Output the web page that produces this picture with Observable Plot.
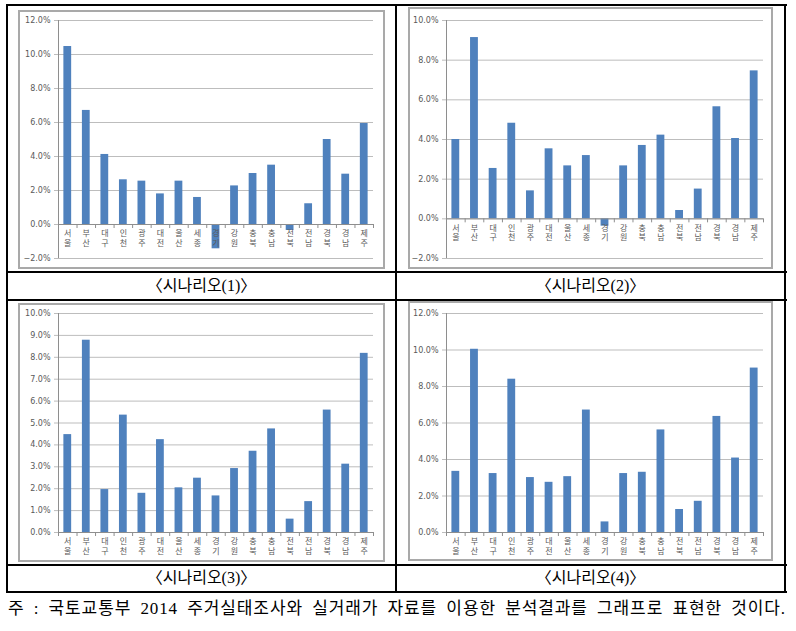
<!DOCTYPE html>
<html><head><meta charset="utf-8">
<script src="https://cdn.jsdelivr.net/npm/d3@7"></script>
<script src="https://cdn.jsdelivr.net/npm/@observablehq/plot@0.6"></script>
<style>
html,body{margin:0;padding:0;background:#fff}
body{width:796px;height:631px;position:relative;overflow:hidden;font-family:"Noto Sans CJK KR",sans-serif}
.ln{position:absolute;background:#000}
.chart{position:absolute;box-sizing:border-box;border:2px solid #a9a9a9;background:#fff}
.chart svg{display:block}
.cap{position:absolute;font-family:"Liberation Serif","Noto Sans CJK KR",serif;font-size:16px;text-align:center;line-height:20px;color:#000}
.note{position:absolute;left:8px;top:598px;font-family:"Liberation Serif","Noto Sans CJK KR",serif;font-size:17px;line-height:21px;white-space:nowrap;color:#000}
</style>
</head><body>
<div id="root"></div>
<script>
const regions = ["서울","부산","대구","인천","광주","대전","울산","세종","경기","강원","충북","충남","전북","전남","경북","경남","제주"];
const scenario1 = [10.47,6.71,4.12,2.63,2.55,1.80,2.55,1.59,-1.43,2.27,3.00,3.49,-0.35,1.22,5.00,2.96,5.94];
const scenario2 = [4.00,9.14,2.54,4.82,1.41,3.53,2.67,3.19,-0.37,2.67,3.70,4.22,0.42,1.50,5.65,4.05,7.46];
const scenario3 = [4.47,8.78,1.96,5.36,1.79,4.24,2.04,2.48,1.67,2.92,3.71,4.73,0.61,1.41,5.59,3.12,8.18];
const scenario4 = [3.35,10.04,3.23,8.40,3.01,2.75,3.06,6.71,0.58,3.23,3.30,5.62,1.26,1.71,6.36,4.08,9.01];
const yTicks1 = [-2,0,2,4,6,8,10,12];
const yTicks2 = [-2,0,2,4,6,8,10];
const yTicks3 = [0,1,2,3,4,5,6,7,8,9,10];
const yTicks4 = [0,2,4,6,8,10,12];
const captions = ["〈시나리오(1)〉","〈시나리오(2)〉","〈시나리오(3)〉","〈시나리오(4)〉"];
const note = "주 : 국토교통부 2014 주거실태조사와 실거래가 자료를 이용한 분석결과를 그래프로 표현한 것이다.";

const B = 2; // frame border
const layouts = [
  {frame:{x:18,y:10,w:367,h:259}, plot:{left:58,right:373,top:20,bottom:258}},
  {frame:{x:408,y:7,w:365,h:262}, plot:{left:446,right:763,top:20,bottom:258}},
  {frame:{x:18,y:303,w:367,h:259}, plot:{left:58,right:373,top:313,bottom:532}},
  {frame:{x:408,y:301,w:365,h:260}, plot:{left:446,right:763,top:313,bottom:532}}
];
const capPos = [{x:7,w:389,y:276},{x:396,w:389,y:276},{x:7,w:389,y:568},{x:396,w:389,y:568}];

function chart(values, ticks, L) {
  const f = L.frame, p = L.plot;
  const W = f.w - 2*B, H = f.h - 2*B;
  const ml = p.left - f.x - B, mr = f.x + f.w - B - p.right;
  const mt = p.top - f.y - B, mb = f.y + f.h - B - p.bottom;
  const ymin = d3.min(ticks), ymax = d3.max(ticks);
  const data = regions.map((r,i)=>({region:r, i, value: values[i]}));
  const bounds = d3.range(regions.length + 1);
  const tickLen = 4*(ymax-ymin)/(H-mt-mb);
  return Plot.plot({
    width: W, height: H, marginLeft: ml, marginRight: mr, marginTop: mt, marginBottom: mb,
    x: {type:"linear", domain:[0, regions.length], axis:null},
    y: {domain:[ymin, ymax], axis:null},
    style: {background:"#fff", overflow:"visible"},
    marks: [
      Plot.ruleY(ticks, {y: d=>d, stroke:"#bdbdbd", strokeWidth:1, insetLeft:-4}),
      Plot.text(ticks, {y: d=>d, frameAnchor:"left", dx:-8, textAnchor:"end", text: d=>d3.format(".1%")(d/100), fontSize:8, fill:"#595959", fontFamily:"DejaVu Sans"}),
      Plot.rectY(data, {x1: d=>d.i+0.29, x2: d=>d.i+0.71, y1: 0, y2: "value", fill:"#4f81bd"}),
      Plot.ruleY([0], {y: d=>d, stroke:"#8e8e8e"}),
      Plot.ruleX([0], {x: d=>d, stroke:"#8e8e8e"}),
      Plot.ruleX(bounds, {x: d=>d, y1: 0, y2: -tickLen, stroke:"#8e8e8e"}),
      Plot.text(data, {x: d=>d.i+0.5, y: 0, text: d=>d.region.split("").join("\n"), lineAnchor:"top", dy:5, fontSize:8, lineHeight:1.2, fill:"#595959", fontFamily:"Noto Sans CJK KR"})
    ]
  });
}

const root = document.getElementById("root");
function line(x,y,w,h){const d=document.createElement("div");d.className="ln";Object.assign(d.style,{left:x+"px",top:y+"px",width:w+"px",height:h+"px"});root.appendChild(d);}
// table lines
line(6,4,781,2); line(6,271,781,2); line(6,299,781,2); line(6,564,781,2); line(6,591,781,2);
line(6,4,2,589); line(395,4,2,589); line(784,4,2,589);

const series = [scenario1, scenario2, scenario3, scenario4];
const tickSets = [yTicks1, yTicks2, yTicks3, yTicks4];
series.forEach((s,k)=>{
  const L = layouts[k];
  const d = document.createElement("div");
  d.className = "chart";
  Object.assign(d.style,{left:L.frame.x+"px",top:L.frame.y+"px",width:L.frame.w+"px",height:L.frame.h+"px"});
  d.appendChild(chart(s, tickSets[k], L));
  root.appendChild(d);
  const c = document.createElement("div");
  c.className = "cap";
  c.textContent = captions[k];
  Object.assign(c.style,{left:capPos[k].x+"px",top:capPos[k].y+"px",width:capPos[k].w+"px"});
  root.appendChild(c);
});
const n = document.createElement("div");
n.className = "note"; n.textContent = note; root.appendChild(n);
// fit note to the table width: a bit of word spacing, rest as letter spacing
const target = 778, cur = n.getBoundingClientRect().width;
const spaces = note.split(" ").length - 1;
const extra = target - cur;
const ws = Math.max(0, Math.min(4, extra / spaces));
n.style.wordSpacing = ws.toFixed(3) + "px";
const rest = target - n.getBoundingClientRect().width;
n.style.letterSpacing = (rest / note.length).toFixed(3) + "px";
</script>
</body></html>
